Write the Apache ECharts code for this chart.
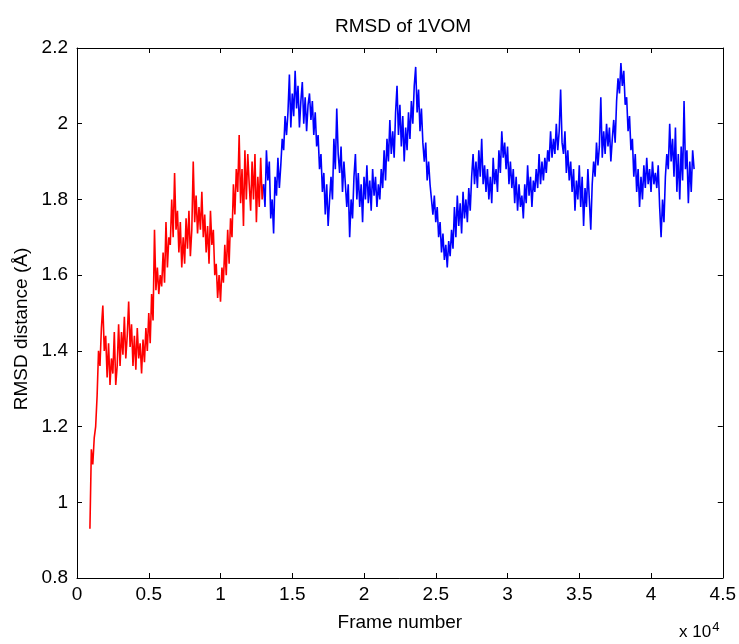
<!DOCTYPE html>
<html>
<head>
<meta charset="utf-8">
<script src="https://cdn.jsdelivr.net/npm/echarts@6/dist/echarts.min.js"></script>
<style>
html,body{margin:0;padding:0;background:#fff;}
#chart{width:739px;height:644px;}
</style>
</head>
<body>
<div id="chart"></div>
<script>
// Frame numbers are in units of 10^4 frames, sampled every 0.01 (100 frames)
var redStart = 0.09;
var blueStart = 1.30;
var frameStep = 0.01;

var redValues = [
0.93,1.14,1.10,1.17,1.20,1.28,1.40,1.36,1.46,1.52,
1.40,1.44,1.33,1.42,1.31,1.38,1.34,1.45,1.31,1.36,
1.47,1.36,1.45,1.39,1.49,1.38,1.44,1.53,1.41,1.47,
1.36,1.44,1.35,1.46,1.38,1.42,1.34,1.43,1.37,1.46,
1.40,1.50,1.42,1.55,1.48,1.72,1.56,1.62,1.55,1.60,
1.57,1.66,1.58,1.74,1.62,1.70,1.68,1.80,1.70,1.87,
1.72,1.77,1.66,1.74,1.62,1.70,1.63,1.75,1.67,1.77,
1.65,1.72,1.90,1.74,1.81,1.71,1.78,1.72,1.82,1.70,
1.76,1.66,1.73,1.63,1.77,1.68,1.72,1.60,1.63,1.54,
1.60,1.53,1.62,1.58,1.68,1.60,1.72,1.63,1.75,1.70,
1.84,1.76,1.88,1.82,1.97,1.79,1.88,1.73,1.93,1.80,
1.92,1.84,1.77,1.90,1.80,1.92,1.74,1.86,1.78,1.91,
1.80,1.84
];

var blueValues = [
1.84,1.78,1.93,1.85,1.90,1.75,1.80,1.71,1.86,1.81,
1.91,1.83,1.89,1.96,1.93,2.02,1.97,2.03,2.13,1.99,
2.08,2.02,2.14,2.04,2.10,1.99,2.06,2.11,2.00,2.07,
1.98,2.05,2.08,2.01,2.06,1.97,2.03,1.94,1.97,1.88,
1.92,1.82,1.87,1.76,1.84,1.73,1.80,1.86,1.80,1.96,
1.88,2.04,1.92,1.87,1.94,1.82,1.90,1.84,1.78,1.84,
1.70,1.80,1.75,1.86,1.92,1.80,1.87,1.78,1.84,1.74,
1.86,1.80,1.89,1.79,1.85,1.77,1.88,1.81,1.86,1.78,
1.84,1.80,1.88,1.83,1.93,1.85,1.96,1.90,2.01,1.92,
1.98,1.91,2.03,2.10,1.97,2.05,1.94,2.02,1.90,1.99,
1.93,2.03,1.96,2.06,2.00,2.10,2.15,2.03,2.09,1.98,
2.04,1.95,1.90,1.95,1.85,1.90,1.84,1.80,1.76,1.81,
1.74,1.78,1.70,1.74,1.66,1.71,1.64,1.68,1.62,1.69,
1.65,1.72,1.67,1.78,1.70,1.81,1.73,1.79,1.71,1.82,
1.75,1.80,1.74,1.83,1.77,1.86,1.92,1.84,1.90,1.83,
1.93,1.86,1.96,1.84,1.89,1.82,1.88,1.80,1.86,1.79,
1.91,1.84,1.88,1.82,1.93,1.87,1.98,1.91,1.95,1.88,
1.94,1.84,1.90,1.83,1.88,1.79,1.86,1.77,1.84,1.78,
1.81,1.75,1.84,1.79,1.89,1.81,1.86,1.78,1.85,1.82,
1.88,1.83,1.92,1.84,1.90,1.85,1.91,1.87,1.93,1.90,
1.98,1.91,1.96,1.92,2.00,1.93,1.98,2.09,1.95,1.92,
1.98,1.87,1.93,1.85,1.90,1.82,1.88,1.77,1.85,1.80,
1.89,1.78,1.86,1.73,1.83,1.78,1.88,1.80,1.72,1.84,
1.90,1.86,1.95,1.89,1.94,2.07,1.91,1.98,1.92,2.00,
1.94,1.99,1.90,1.96,2.01,1.95,2.06,2.12,2.08,2.16,
2.10,2.14,2.05,2.07,1.98,2.02,1.93,1.96,1.86,1.92,
1.82,1.88,1.78,1.86,1.80,1.89,1.83,1.91,1.84,1.88,
1.82,1.90,1.84,1.87,1.83,1.89,1.78,1.70,1.80,1.74,
1.86,1.92,1.88,2.00,1.90,1.96,1.86,1.99,1.82,1.92,
1.80,1.94,1.85,2.06,1.88,1.93,1.79,1.90,1.82,1.93,
1.88
];

var xTicks = [0, 0.5, 1, 1.5, 2, 2.5, 3, 3.5, 4, 4.5];
var yTicks = [0.8, 1, 1.2, 1.4, 1.6, 1.8, 2, 2.2];

function pair(start, vals) {
  return vals.map(function (v, i) {
    return [+(start + i * frameStep).toFixed(2), v];
  });
}

var FONT = '"Liberation Sans", Arial, sans-serif';
var FS = 19;
var chart = echarts.init(document.getElementById('chart'), null, {renderer: 'canvas'});

var axisCommon = {
  axisLine: {show: true, onZero: false, lineStyle: {color: '#000', width: 1}},
  axisTick: {show: true, inside: true, length: 5, lineStyle: {color: '#000'}},
  splitLine: {show: false}
};

chart.setOption({
  animation: false,
  backgroundColor: '#fff',
  title: {
    text: 'RMSD of 1VOM',
    left: 398, top: 12, textAlign: 'center',
    textStyle: {fontFamily: FONT, fontSize: FS, fontWeight: 'normal', color: '#000'}
  },
  grid: {left: 77, right: 15, top: 48, bottom: 66, containLabel: false},
  xAxis: [
    Object.assign({
      type: 'value', min: xTicks[0], max: xTicks[xTicks.length - 1], interval: 0.5, position: 'bottom',
      name: 'Frame number', nameLocation: 'middle', nameGap: 35,
      nameTextStyle: {fontFamily: FONT, fontSize: FS, color: '#000'},
      axisLabel: {fontFamily: FONT, fontSize: FS, color: '#000', margin: 7,
        formatter: function (v) { return String(+v.toFixed(1)); }}
    }, axisCommon),
    Object.assign({
      type: 'value', min: xTicks[0], max: xTicks[xTicks.length - 1], interval: 0.5, position: 'top',
      axisLabel: {show: false}
    }, axisCommon)
  ],
  yAxis: [
    Object.assign({
      type: 'value', min: yTicks[0], max: yTicks[yTicks.length - 1], interval: 0.2, position: 'left',
      axisLabel: {fontFamily: FONT, fontSize: FS, color: '#000', margin: 9,
        formatter: function (v) { return String(+v.toFixed(1)); }}
    }, axisCommon),
    Object.assign({
      type: 'value', min: yTicks[0], max: yTicks[yTicks.length - 1], interval: 0.2, position: 'right',
      axisLabel: {show: false}
    }, axisCommon)
  ],
  graphic: [{
    type: 'text', x: 22, y: 329, rotation: Math.PI / 2,
    style: {
      text: 'RMSD distance (Å)', font: FS + 'px ' + FONT, fill: '#000',
      textAlign: 'center', textVerticalAlign: 'middle'
    }
  }, {
    type: 'text', left: 679, top: 621,
    style: {
      text: 'x 10{s|4}',
      rich: {s: {fontSize: 13, verticalAlign: 'top', padding: [0, 0, 10, 1], fontFamily: FONT, fill: '#000'}},
      font: '17px ' + FONT, fill: '#000'
    }
  }],
  series: [
    {type: 'line', data: pair(redStart, redValues), showSymbol: false, symbol: 'none',
     lineStyle: {color: '#ff0000', width: 1.6}, itemStyle: {color: '#ff0000'}, z: 3},
    {type: 'line', data: pair(blueStart, blueValues), showSymbol: false, symbol: 'none',
     lineStyle: {color: '#0000ff', width: 1.6}, itemStyle: {color: '#0000ff'}, z: 3}
  ]
});
</script>
</body>
</html>
